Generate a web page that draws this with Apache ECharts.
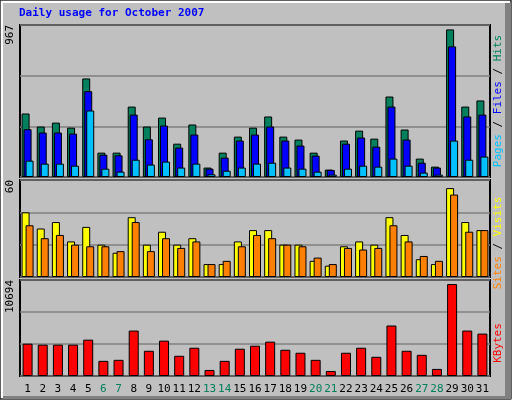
<!DOCTYPE html>
<html>
<head>
<meta charset="utf-8">
<script src="https://cdn.jsdelivr.net/npm/echarts@6/dist/echarts.min.js"></script>
<style>html,body{margin:0;padding:0;background:#c0c0c0}#main{width:512px;height:400px}</style>
</head>
<body>
<div id="main"></div>
<script>
var days = [];
for (var d = 1; d <= 31; d++) days.push(String(d));
var weekendDays = ['6', '7', '13', '14', '20', '21', '27', '28'];

// hits / files / pages
var hits  = [404, 321, 346, 314, 627, 155, 155, 448, 321, 378, 212, 334, 60, 155, 257, 314,
             385, 257, 238, 155, 47, 232, 295, 244, 512, 302, 117, 66, 939, 448, 487];
var files = [304, 283, 283, 276, 546, 142, 138, 397, 240, 327, 187, 270, 53, 123, 232, 270,
             321, 232, 200, 136, 45, 212, 251, 193, 448, 238, 91, 60, 831, 385, 397];
var pages = [104, 85, 85, 72, 423, 53, 34, 110, 79, 98, 60, 85, 17, 40, 60, 85,
             91, 60, 53, 34, 15, 53, 72, 66, 117, 72, 28, 15, 232, 110, 130];
// visits / sites
var visits = [40, 30, 34, 22, 31, 20, 15, 37, 20, 28, 20, 24, 8, 8, 22, 29,
              29, 20, 20, 10, 7, 19, 22, 20, 37, 26, 11, 8, 55, 34, 29];
var sites  = [32, 24, 26, 20, 19, 19, 16, 34, 16, 24, 18, 22, 8, 10, 19, 26,
              24, 20, 19, 12, 8, 18, 17, 18, 32, 22, 13, 10, 51, 28, 29];
// kbytes
var kbytes = [3600, 3490, 3490, 3490, 4050, 1690, 1800, 5060, 2810, 3940, 2250, 3150, 675, 1690, 3040, 3375,
              3825, 2925, 2590, 1800, 560, 2590, 3150, 2140, 5625, 2810, 2360, 790, 10240, 5060, 4725];

var maxHits = 967, maxVisits = 60, maxKb = 10694;

var font = 'DejaVu Sans Mono';
var grids = [
  { left: 20, right: 22, top: 25, height: 152 },
  { left: 20, right: 22, top: 180, height: 97 },
  { left: 20, right: 22, top: 280, height: 96 }
];
grids.forEach(function (g) { g.show = true; g.borderColor = '#000'; g.borderWidth = 2; g.backgroundColor = '#c0c0c0'; });

function xAx(i, showLabels) {
  return {
    type: 'category', gridIndex: i, data: days,
    axisLine: { show: false }, axisTick: { show: false },
    axisLabel: {
      show: showLabels, margin: 8, interval: 0, fontFamily: font, fontSize: 11,
      formatter: function (v) { return weekendDays.indexOf(v) >= 0 ? '{w|' + v + '}' : v; },
      color: '#000', rich: { w: { color: '#00805c', fontFamily: font, fontSize: 11 } }
    }
  };
}
function yAx(i, max) {
  return {
    type: 'value', gridIndex: i, min: 0, max: max, interval: max / 3,
    axisLine: { show: false }, axisTick: { show: false },
    splitLine: { lineStyle: { color: '#808080', width: 1.5 } },
    axisLabel: {
      rotate: 90, margin: 4, fontFamily: font, fontSize: 11, color: '#000',
      align: 'right', verticalAlign: 'bottom',
      formatter: function (v) { return Math.abs(v - max) < 0.01 ? String(max) : ''; }
    }
  };
}
function bar(name, data, color, xi, width, gap) {
  return {
    name: name, type: 'bar', xAxisIndex: xi, yAxisIndex: xi, data: data,
    barWidth: width, barGap: gap, animation: false,
    itemStyle: { color: color, borderColor: '#000', borderWidth: 1 }
  };
}

function sideLabel(yMid, parts) {
  var rich = {}, txt = [];
  parts.forEach(function (p, k) {
    rich['p' + k] = { fill: p[1], fontFamily: font, fontSize: 11 };
    txt.push('{p' + k + '|' + p[0] + '}');
  });
  return {
    type: 'text', x: 498, y: yMid, rotation: Math.PI / 2,
    style: { text: txt.join(''), rich: rich, align: 'center', verticalAlign: 'middle' }
  };
}

var chart = echarts.init(document.getElementById('main'));
chart.setOption({
  backgroundColor: '#c0c0c0',
  animation: false,
  grid: grids,
  xAxis: [xAx(0, false), xAx(1, false), xAx(2, true)],
  yAxis: [yAx(0, maxHits), yAx(1, maxVisits), yAx(2, maxKb)],
  series: [
    bar('Hits', hits, '#00805c', 0, 8, '-75%'),
    bar('Files', files, '#0000ff', 0, 8, '-75%'),
    bar('Pages', pages, '#00c0ff', 0, 8, '-75%'),
    bar('Visits', visits, '#ffff00', 1, 8, '-50%'),
    bar('Sites', sites, '#ff8000', 1, 8, '-50%'),
    bar('KBytes', kbytes, '#ff0000', 2, 10, '0%')
  ],
  graphic: [
    { type: 'rect', shape: { x: 0, y: 0, width: 511, height: 399 }, style: { fill: 'none', stroke: '#000', lineWidth: 1 } },
    { type: 'rect', shape: { x: 1, y: 1, width: 2, height: 397 }, style: { fill: '#fff' } },
    { type: 'rect', shape: { x: 1, y: 1, width: 509, height: 2 }, style: { fill: '#fff' } },
    { type: 'rect', shape: { x: 505, y: 3, width: 6, height: 396 }, style: { fill: '#808080' } },
    { type: 'rect', shape: { x: 3, y: 396, width: 508, height: 3 }, style: { fill: '#808080' } },
    { type: 'text', x: 19, y: 8, style: { text: 'Daily usage for October 2007', fill: '#0000ff', font: 'bold 11px "DejaVu Sans Mono"' } },
    sideLabel(101, [['Pages', '#00c0ff'], [' / ', '#000'], ['Files', '#0000ff'], [' / ', '#000'], ['Hits', '#00805c']]),
    sideLabel(243, [['Sites', '#ff8000'], [' / ', '#000'], ['Visits', '#ffff00']]),
    sideLabel(343, [['KBytes', '#ff0000']])
  ]
});
</script>
</body>
</html>
